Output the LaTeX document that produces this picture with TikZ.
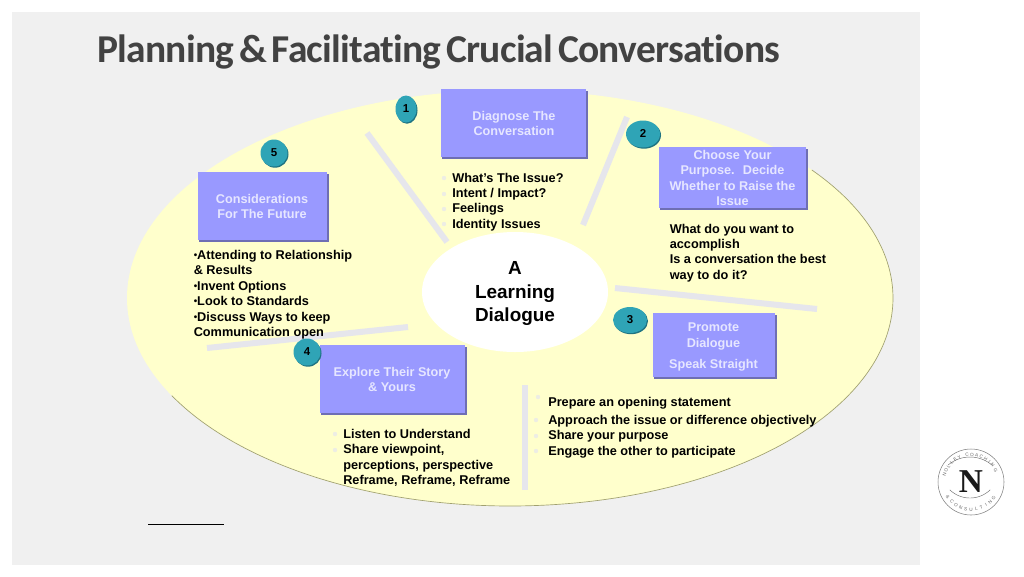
\documentclass[tikz,border=0pt]{standalone}
\usepackage{fontspec}
\setmainfont{Liberation Sans}
\newfontfamily\titlefont[LetterSpace=-1.9,WordSpace=0.6,Ligatures=NoCommon]{Carlito}
\newfontfamily\logofont{Liberation Serif}
\definecolor{panel}{HTML}{F0F0F0}
\definecolor{oval}{HTML}{FFFFCC}
\definecolor{ovalline}{HTML}{A0A070}
\definecolor{boxfill}{HTML}{9999FF}
\definecolor{boxtext}{HTML}{E6E6FF}
\definecolor{boxedge}{HTML}{6E6EB4}
\definecolor{sep}{HTML}{E6E6EC}
\definecolor{teal}{HTML}{2FA4B6}
\definecolor{tealdark}{HTML}{1F7382}
\definecolor{dotc}{HTML}{EDEDE4}
\newcommand{\smallbul}{{\fontsize{7.4}{8}\selectfont\raisebox{0.7pt}{•}}}
\tikzset{
  x=0.75pt,y=-0.75pt,
  boxlabel/.style={text=boxtext,font=\bfseries\fontsize{9.5}{11.6}\selectfont,align=center,inner sep=0pt},
  bodytext/.style={text=black,font=\bfseries\fontsize{9.55}{11.6}\selectfont,align=left,anchor=north west,inner sep=0pt},
  sepline/.style={draw=sep,line width=4.5pt},
  badge/.style={font=\bfseries\fontsize{8.6}{10}\selectfont,text=black,inner sep=0pt},
  faintdot/.style={fill=dotc,draw=none},
  logoch/.style={inner sep=0pt,text=black!60,font=\fontsize{3.5}{4}\selectfont},
}
\newcommand{\boxat}[5]{%
  \fill[boxedge] (#2+1,#3+1.5) rectangle (#4+1.5,#5+1.5);
  \fill[boxfill] (#2,#3) rectangle (#4,#5);
}
\newcommand{\badgeat}[6]{%
  \fill[tealdark] (#2+1,#3+1.2) ellipse [x radius=#4,y radius=#5];
  \fill[teal] (#2,#3) ellipse [x radius=#4,y radius=#5];
  \node[badge] (#1) at (#2,#3-0.5) {#6};
}
\begin{document}
\begin{tikzpicture}
\useasboundingbox (0,0) rectangle (1024,576);
\fill[white] (0,0) rectangle (1024,576);
\fill[panel] (12,12) rectangle (920,565);
\node[anchor=base west,inner sep=0pt,text=black!74,font=\titlefont\bfseries\fontsize{29.6}{32}\selectfont] (title) at (97,62) {Planning \& Facilitating Crucial Conversations};

\fill[oval] (510,298) ellipse [x radius=383,y radius=208];
\draw[ovalline,line width=0.5pt] plot[domain=38:-152,samples=120,smooth] ({510+383*cos(\x)},{298-208*sin(\x)});
\fill[white] (515,292) ellipse [x radius=93,y radius=60];

\draw[sepline] (367,133) -- (447,242);
\draw[sepline] (627,117) -- (583,225);
\draw[sepline] (615,288) -- (817,309);
\draw[sepline] (207,348) -- (408,327);
\draw[sepline] (525,385) -- (525,490);

\boxat{b1}{441}{89}{586}{157}
\node[boxlabel] (t1) at (514,123.5) {Diagnose The\\Conversation};
\boxat{b2}{659}{147}{806}{208}
\node[boxlabel] (t2) at (732.5,178) {Choose Your\\Purpose.~ Decide\\Whether to Raise the\\Issue};
\boxat{b3}{653}{313}{775}{377}
\node[boxlabel] (t3) at (713.5,336.5) {Promote\\Dialogue};
\node[boxlabel] (t3b) at (713.5,365.5) {Speak Straight};
\boxat{b4}{320}{345}{465}{413}
\node[boxlabel] (t4) at (392,379.5) {Explore Their Story\\\& Yours};
\boxat{b5}{198}{172}{327}{240}
\node[boxlabel] (t5) at (262,206.5) {Considerations\\For The Future};

\badgeat{n1}{406}{109}{10.5}{13.5}{1}
\badgeat{n2}{643}{134}{17}{13.5}{2}
\badgeat{n3}{630}{320}{17}{13}{3}
\badgeat{n4}{307}{352}{13.5}{13.5}{4}
\badgeat{n5}{274}{153}{13.5}{13.5}{5}

\node[bodytext] (l1) at (452,172.5) {What’s The Issue?\\Intent / Impact?\\Feelings\\Identity Issues};
\node[bodytext] (l2) at (669.5,223.5) {What do you want to\\accomplish\\Is a conversation the best\\way to do it?};
\node[bodytext] (l5) at (193.5,250) {\smallbul Attending to Relationship\\\& Results\\\smallbul Invent Options\\\smallbul Look to Standards\\\smallbul Discuss Ways to keep\\Communication open};
\node[bodytext] (l3a) at (548,397) {Prepare an opening statement};
\node[bodytext] (l3) at (548,415) {Approach the issue or difference objectively\\Share your purpose\\Engage the other to participate};
\node[bodytext] (l4) at (343,429) {Listen to Understand\\Share viewpoint,\\perceptions, perspective\\Reframe, Reframe, Reframe};
\node[text=black,font=\bfseries\fontsize{14.2}{17.4}\selectfont,align=center,inner sep=0pt] (center) at (515,293.5) {A\\Learning\\Dialogue};

\foreach \px/\py in {444/178,444/194,444/209,444/224,538/397,536/420,536/436,536/451,335/434,335/450}
  \fill[faintdot] (\px,\py) circle [radius=2.2];

\draw[black,line width=0.6pt] (148,524) -- (224,524);

% logo
\draw[black!50,line width=0.4pt] (971,482) circle [radius=33];
\node[inner sep=0pt,text=black!90,font=\logofont\bfseries\fontsize{25}{28}\selectfont] (logoN) at (971,482) {N};
\draw[black!55,line width=0.35pt] plot[domain=130:50,samples=24] ({970+34*cos(\x)},{491-34*sin(\x)});
\draw[black!55,line width=0.35pt] plot[domain=226:314,samples=24] ({970+29*cos(\x)},{469-29*sin(\x)});
\foreach \ch/\ang in {N/165,O/155,L/145,L/135,E/125,Y/115,C/98,O/88,A/78,C/68,H/58,I/48,N/38,G/26}
  \node[logoch,rotate=\ang-90] at ({971+27.5*cos(\ang)},{482-27.5*sin(\ang)}) {\ch};
\foreach \ch/\ang in {{\&}/212,C/226,O/237,N/248,S/259,U/270,L/281,T/292,I/303,N/314,G/325}
  \node[logoch,rotate=\ang+90] at ({971+27.5*cos(\ang)},{482-27.5*sin(\ang)}) {\ch};
\end{tikzpicture}
\end{document}
